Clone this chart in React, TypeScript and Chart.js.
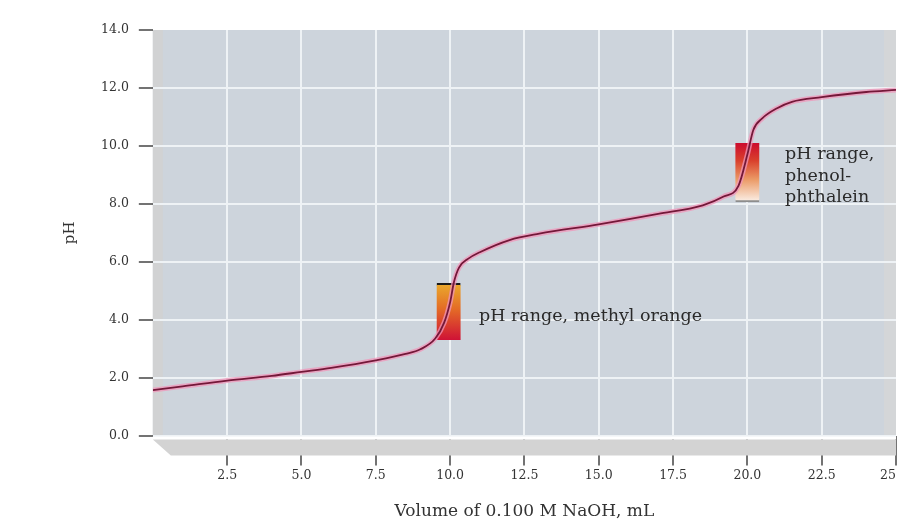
import { useEffect, useRef } from "react";
import { Chart, registerables } from "chart.js";

Chart.register(...registerables);

// Titration curve: volume of NaOH (mL) vs pH
const volumes = [0, 1, 2.5, 4, 5, 6, 7.5, 8.5, 9, 9.5, 9.8, 10, 10.13, 10.3, 10.6, 11, 12, 13, 15, 17, 18.5, 19.2, 19.7, 20, 20.2, 20.5, 21, 21.5, 22.5, 24, 25];
const phValues = [1.57, 1.7, 1.9, 2.06, 2.2, 2.34, 2.6, 2.82, 2.98, 3.35, 3.9, 4.6, 5.3, 5.8, 6.1, 6.33, 6.75, 6.97, 7.29, 7.65, 7.95, 8.25, 8.62, 9.7, 10.55, 10.95, 11.3, 11.52, 11.68, 11.86, 11.93];

// Indicator ranges (bars)
const indicatorNames = ["methyl orange", "phenolphthalein"];
const indicatorVolumes = [9.95, 20.0];
const indicatorLow = [3.3, 8.07];
const indicatorHigh = [5.26, 10.1];

// Ticks
const xTickValues = [2.5, 5, 7.5, 10, 12.5, 15, 17.5, 20, 22.5, 25];
const xTickLabels = ["2.5", "5.0", "7.5", "10.0", "12.5", "15.0", "17.5", "20.0", "22.5", "25"];
const yTickValues = [0, 2, 4, 6, 8, 10, 12, 14];
const yTickLabels = ["0.0", "2.0", "4.0", "6.0", "8.0", "10.0", "12.0", "14.0"];

const xTitle = "Volume of 0.100 M NaOH, mL";
const yTitle = "pH";

// Annotation texts
const noteLines = [["pH range, methyl orange"], ["pH range,", "phenol-", "phthalein"]];
const noteAnchors = [
  { x: 10.97, y: 4.1 },
  { x: 21.27, y: 9.7 },
];

const SERIF = '"DejaVu Serif", "Liberation Serif", serif';

const backdropPlugin = {
  id: "backdrop",
  beforeDraw(chart: any) {
    const { ctx, chartArea: a } = chart;
    ctx.save();
    ctx.fillStyle = "#cdd4dc";
    ctx.fillRect(a.left, a.top, a.right - a.left, a.bottom - a.top);
    ctx.fillStyle = "#d1d2d3";
    ctx.fillRect(a.left, a.top, 10, a.bottom - a.top);
    ctx.fillStyle = "#d4d6d8";
    ctx.fillRect(a.right - 12, a.top, 12, a.bottom - a.top);
    ctx.restore();
  },
  beforeDatasetsDraw(chart: any) {
    const { ctx, chartArea: a } = chart;
    ctx.save();
    ctx.fillStyle = "#ffffff";
    ctx.fillRect(a.left, a.bottom + 1, a.right - a.left, 3);
    ctx.fillStyle = "#d3d3d3";
    ctx.beginPath();
    ctx.moveTo(a.left, a.bottom + 4);
    ctx.lineTo(a.right, a.bottom + 4);
    ctx.lineTo(a.right, a.bottom + 20);
    ctx.lineTo(a.left + 18, a.bottom + 20);
    ctx.closePath();
    ctx.fill();
    ctx.restore();
  },
};

const notesPlugin = {
  id: "notes",
  afterDatasetsDraw(chart: any) {
    const { ctx, scales } = chart;
    ctx.save();
    ctx.font = `17.5px ${SERIF}`;
    ctx.fillStyle = "#2a2a2a";
    ctx.textAlign = "left";
    ctx.textBaseline = "middle";
    noteLines.forEach((lines, i) => {
      const px = scales.x.getPixelForValue(noteAnchors[i].x);
      const py = scales.y.getPixelForValue(noteAnchors[i].y);
      lines.forEach((line, j) => ctx.fillText(line, px, py + j * 21.5));
    });
    ctx.restore();
  },
};

function indicatorGradient(context: any) {
  const chart = context.chart;
  const i = context.dataIndex;
  const { ctx, scales } = chart;
  if (!chart.chartArea || !scales.y) return i === 0 ? "#e46a2a" : "#e05a3a";
  const top = scales.y.getPixelForValue(indicatorHigh[i]);
  const bottom = scales.y.getPixelForValue(indicatorLow[i]);
  const g = ctx.createLinearGradient(0, top, 0, bottom);
  if (i === 0) {
    g.addColorStop(0, "#eaab2c");
    g.addColorStop(0.45, "#e46c26");
    g.addColorStop(1, "#cf1236");
  } else {
    g.addColorStop(0, "#cc0c2e");
    g.addColorStop(0.3, "#d9402c");
    g.addColorStop(0.62, "#eb9a66");
    g.addColorStop(1, "#fbf0e8");
  }
  return g;
}

export default function App() {
  const ref = useRef<HTMLCanvasElement>(null);

  useEffect(() => {
    const curve = volumes.map((v, i) => ({ x: v, y: phValues[i] }));
    const bars = indicatorVolumes.map((v, i) => ({ x: v, y: [indicatorLow[i], indicatorHigh[i]] }));

    const chart = new Chart(ref.current as HTMLCanvasElement, {
      type: "line",
      data: {
        datasets: [
          {
            type: "bar",
            label: "Indicator ranges",
            data: bars as any,
            backgroundColor: indicatorGradient as any,
            borderColor: ((c: any) => (c.dataIndex === 0 ? "#1b1b1b" : "#8d8d8d")) as any,
            borderWidth: ((c: any) =>
              c.dataIndex === 0
                ? { top: 2, right: 0, bottom: 0, left: 0 }
                : { top: 0, right: 0, bottom: 2, left: 0 }) as any,
            borderSkipped: false,
            barThickness: 24,
            order: 3,
          } as any,
          {
            label: "halo",
            data: curve,
            borderColor: "rgba(240,150,185,0.75)",
            borderWidth: 5,
            pointRadius: 0,
            cubicInterpolationMode: "monotone",
            fill: false,
            order: 2,
          },
          {
            label: "pH",
            data: curve,
            borderColor: "#741839",
            borderWidth: 1.8,
            pointRadius: 0,
            cubicInterpolationMode: "monotone",
            fill: false,
            order: 1,
          },
        ],
      },
      options: {
        responsive: false,
        animation: false,
        events: [],
        layout: { padding: { left: 61, top: 30, right: 6, bottom: 2 } },
        plugins: {
          legend: { display: false },
          tooltip: { enabled: false },
        },
        scales: {
          x: {
            type: "linear",
            min: 0,
            max: 25,
            offset: false,
            border: { display: false },
            afterBuildTicks: (s: any) => {
              s.ticks = xTickValues.map((v) => ({ value: v }));
            },
            afterFit: (s: any) => {
              s.paddingRight = 0;
            },
            grid: {
              offset: false,
              color: (c: any) => (c.tick && c.tick.value === 25 ? "rgba(0,0,0,0)" : "#eef2f5"),
              lineWidth: 2,
              tickColor: "#444",
              tickWidth: 1.5,
              tickLength: 30,
            },
            ticks: {
              padding: 3,
              color: "#333",
              font: { family: SERIF, size: 12.5 },
              maxRotation: 0,
              autoSkip: false,
              callback: (v: any) => {
                const idx = xTickValues.indexOf(Number(v));
                if (idx < 0) return "";
                // last label sits just inside the right edge
                return idx === xTickValues.length - 1 ? xTickLabels[idx] + "\u00a0\u00a0\u00a0\u00a0" : xTickLabels[idx];
              },
            },
            title: {
              display: true,
              text: xTitle,
              color: "#333",
              font: { family: SERIF, size: 17 },
              padding: { top: 15, bottom: 0 },
            },
          },
          y: {
            type: "linear",
            min: 0,
            max: 14,
            stacked: false,
            border: { display: false },
            afterBuildTicks: (s: any) => {
              s.ticks = yTickValues.map((v) => ({ value: v }));
            },
            grid: {
              color: (c: any) => (c.tick && c.tick.value === 14 ? "rgba(0,0,0,0)" : "#eef2f5"),
              lineWidth: 2,
              tickColor: "#444",
              tickWidth: 1.5,
              tickLength: 14,
            },
            ticks: {
              padding: 10,
              color: "#333",
              font: { family: SERIF, size: 12.5 },
              callback: (v: any) => {
                const idx = yTickValues.indexOf(Number(v));
                return idx >= 0 ? yTickLabels[idx] : "";
              },
            },
            title: {
              display: true,
              text: yTitle,
              color: "#333",
              font: { family: SERIF, size: 15 },
              padding: { top: 0, bottom: 12 },
            },
          },
        },
      },
      plugins: [backdropPlugin, notesPlugin],
    } as any);

    return () => chart.destroy();
  }, []);

  return (
    <div style={{ position: "absolute", left: 0, top: 0, width: 902, height: 524 }}>
      <canvas ref={ref} width={902} height={524} style={{ display: "block" }} aria-label={indicatorNames.join(", ")} />
    </div>
  );
}
